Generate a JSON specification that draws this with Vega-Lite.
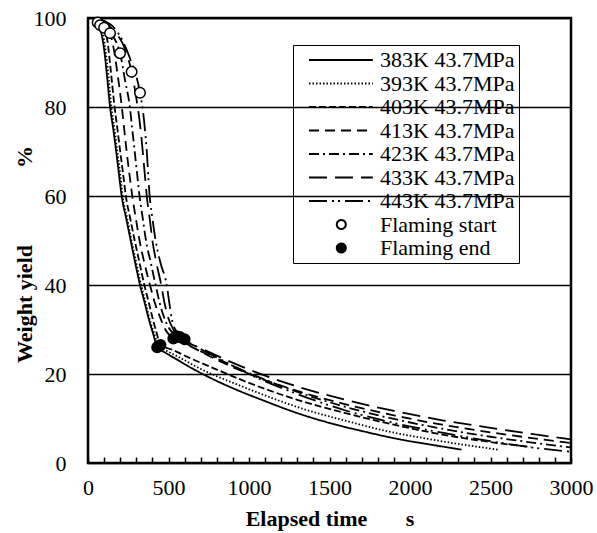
{
  "$schema": "https://vega.github.io/schema/vega-lite/v6.json",
  "autosize": "none",
  "width": 483,
  "height": 445,
  "padding": {"left": 88, "top": 18, "right": 26, "bottom": 70},
  "background": "white",
  "config": {
    "view": {"stroke": "black", "strokeWidth": 2.5},
    "font": "'Times New Roman', 'Liberation Serif', 'DejaVu Serif', serif"
  },
  "datasets": {
    "curves": [
      {"series": "383K 43.7MPa", "t": 50, "y": 99.7}, {"series": "383K 43.7MPa", "t": 60, "y": 99}, {"series": "383K 43.7MPa", "t": 80, "y": 97}, {"series": "383K 43.7MPa", "t": 100, "y": 93}, {"series": "383K 43.7MPa", "t": 118, "y": 87}, {"series": "383K 43.7MPa", "t": 137, "y": 80}, {"series": "383K 43.7MPa", "t": 157, "y": 75}, {"series": "383K 43.7MPa", "t": 175, "y": 70}, {"series": "383K 43.7MPa", "t": 192, "y": 65}, {"series": "383K 43.7MPa", "t": 209, "y": 60}, {"series": "383K 43.7MPa", "t": 237, "y": 55}, {"series": "383K 43.7MPa", "t": 265, "y": 50}, {"series": "383K 43.7MPa", "t": 293, "y": 45}, {"series": "383K 43.7MPa", "t": 323, "y": 40}, {"series": "383K 43.7MPa", "t": 352, "y": 36}, {"series": "383K 43.7MPa", "t": 380, "y": 32}, {"series": "383K 43.7MPa", "t": 405, "y": 29}, {"series": "383K 43.7MPa", "t": 430, "y": 26}, {"series": "383K 43.7MPa", "t": 480, "y": 24.8}, {"series": "383K 43.7MPa", "t": 550, "y": 23.3}, {"series": "383K 43.7MPa", "t": 650, "y": 21.2}, {"series": "383K 43.7MPa", "t": 750, "y": 19.3}, {"series": "383K 43.7MPa", "t": 900, "y": 16.8}, {"series": "383K 43.7MPa", "t": 1100, "y": 13.9}, {"series": "383K 43.7MPa", "t": 1317, "y": 11}, {"series": "383K 43.7MPa", "t": 1500, "y": 9}, {"series": "383K 43.7MPa", "t": 1700, "y": 7.2}, {"series": "383K 43.7MPa", "t": 1938, "y": 5.3}, {"series": "383K 43.7MPa", "t": 2100, "y": 4.3}, {"series": "383K 43.7MPa", "t": 2320, "y": 3},
      {"series": "393K 43.7MPa", "t": 50, "y": 99.7}, {"series": "393K 43.7MPa", "t": 75, "y": 98.4}, {"series": "393K 43.7MPa", "t": 95, "y": 96}, {"series": "393K 43.7MPa", "t": 115, "y": 91}, {"series": "393K 43.7MPa", "t": 130, "y": 86}, {"series": "393K 43.7MPa", "t": 145, "y": 80}, {"series": "393K 43.7MPa", "t": 165, "y": 75}, {"series": "393K 43.7MPa", "t": 182, "y": 70}, {"series": "393K 43.7MPa", "t": 200, "y": 65}, {"series": "393K 43.7MPa", "t": 215, "y": 60}, {"series": "393K 43.7MPa", "t": 243, "y": 55}, {"series": "393K 43.7MPa", "t": 270, "y": 50}, {"series": "393K 43.7MPa", "t": 300, "y": 45}, {"series": "393K 43.7MPa", "t": 330, "y": 40}, {"series": "393K 43.7MPa", "t": 358, "y": 36}, {"series": "393K 43.7MPa", "t": 385, "y": 32}, {"series": "393K 43.7MPa", "t": 412, "y": 29}, {"series": "393K 43.7MPa", "t": 440, "y": 26.3}, {"series": "393K 43.7MPa", "t": 500, "y": 25}, {"series": "393K 43.7MPa", "t": 580, "y": 23.5}, {"series": "393K 43.7MPa", "t": 680, "y": 21.5}, {"series": "393K 43.7MPa", "t": 800, "y": 19.5}, {"series": "393K 43.7MPa", "t": 950, "y": 17.3}, {"series": "393K 43.7MPa", "t": 1150, "y": 14.5}, {"series": "393K 43.7MPa", "t": 1350, "y": 12}, {"series": "393K 43.7MPa", "t": 1600, "y": 9.5}, {"series": "393K 43.7MPa", "t": 1850, "y": 7.2}, {"series": "393K 43.7MPa", "t": 2100, "y": 5.5}, {"series": "393K 43.7MPa", "t": 2350, "y": 4}, {"series": "393K 43.7MPa", "t": 2550, "y": 3},
      {"series": "403K 43.7MPa", "t": 55, "y": 99.7}, {"series": "403K 43.7MPa", "t": 100, "y": 97.8}, {"series": "403K 43.7MPa", "t": 120, "y": 95}, {"series": "403K 43.7MPa", "t": 142, "y": 88}, {"series": "403K 43.7MPa", "t": 165, "y": 80}, {"series": "403K 43.7MPa", "t": 183, "y": 75}, {"series": "403K 43.7MPa", "t": 200, "y": 70}, {"series": "403K 43.7MPa", "t": 218, "y": 65}, {"series": "403K 43.7MPa", "t": 235, "y": 60}, {"series": "403K 43.7MPa", "t": 262, "y": 55}, {"series": "403K 43.7MPa", "t": 290, "y": 50}, {"series": "403K 43.7MPa", "t": 320, "y": 45}, {"series": "403K 43.7MPa", "t": 350, "y": 40}, {"series": "403K 43.7MPa", "t": 378, "y": 36}, {"series": "403K 43.7MPa", "t": 405, "y": 32}, {"series": "403K 43.7MPa", "t": 428, "y": 29}, {"series": "403K 43.7MPa", "t": 450, "y": 26.5}, {"series": "403K 43.7MPa", "t": 520, "y": 25.5}, {"series": "403K 43.7MPa", "t": 620, "y": 23.8}, {"series": "403K 43.7MPa", "t": 800, "y": 21}, {"series": "403K 43.7MPa", "t": 1000, "y": 18}, {"series": "403K 43.7MPa", "t": 1300, "y": 14.2}, {"series": "403K 43.7MPa", "t": 1600, "y": 11.2}, {"series": "403K 43.7MPa", "t": 1900, "y": 8.6}, {"series": "403K 43.7MPa", "t": 2200, "y": 6.4}, {"series": "403K 43.7MPa", "t": 2500, "y": 4.7}, {"series": "403K 43.7MPa", "t": 2750, "y": 3.6},
      {"series": "413K 43.7MPa", "t": 60, "y": 99.7}, {"series": "413K 43.7MPa", "t": 137, "y": 96.6}, {"series": "413K 43.7MPa", "t": 160, "y": 93}, {"series": "413K 43.7MPa", "t": 185, "y": 87}, {"series": "413K 43.7MPa", "t": 210, "y": 80}, {"series": "413K 43.7MPa", "t": 225, "y": 75}, {"series": "413K 43.7MPa", "t": 240, "y": 70}, {"series": "413K 43.7MPa", "t": 257, "y": 65}, {"series": "413K 43.7MPa", "t": 275, "y": 60}, {"series": "413K 43.7MPa", "t": 297, "y": 55}, {"series": "413K 43.7MPa", "t": 320, "y": 50}, {"series": "413K 43.7MPa", "t": 350, "y": 45}, {"series": "413K 43.7MPa", "t": 385, "y": 40}, {"series": "413K 43.7MPa", "t": 415, "y": 36}, {"series": "413K 43.7MPa", "t": 445, "y": 33}, {"series": "413K 43.7MPa", "t": 480, "y": 30}, {"series": "413K 43.7MPa", "t": 530, "y": 28}, {"series": "413K 43.7MPa", "t": 620, "y": 26.5}, {"series": "413K 43.7MPa", "t": 800, "y": 23.2}, {"series": "413K 43.7MPa", "t": 1000, "y": 20}, {"series": "413K 43.7MPa", "t": 1300, "y": 16.2}, {"series": "413K 43.7MPa", "t": 1600, "y": 13.2}, {"series": "413K 43.7MPa", "t": 1900, "y": 10.7}, {"series": "413K 43.7MPa", "t": 2200, "y": 8.6}, {"series": "413K 43.7MPa", "t": 2500, "y": 6.9}, {"series": "413K 43.7MPa", "t": 2800, "y": 5.4}, {"series": "413K 43.7MPa", "t": 3000, "y": 4.5},
      {"series": "423K 43.7MPa", "t": 65, "y": 99.7}, {"series": "423K 43.7MPa", "t": 120, "y": 97.5}, {"series": "423K 43.7MPa", "t": 199, "y": 92.1}, {"series": "423K 43.7MPa", "t": 230, "y": 86}, {"series": "423K 43.7MPa", "t": 260, "y": 80}, {"series": "423K 43.7MPa", "t": 275, "y": 75}, {"series": "423K 43.7MPa", "t": 290, "y": 70}, {"series": "423K 43.7MPa", "t": 305, "y": 65}, {"series": "423K 43.7MPa", "t": 320, "y": 60}, {"series": "423K 43.7MPa", "t": 340, "y": 55}, {"series": "423K 43.7MPa", "t": 360, "y": 50}, {"series": "423K 43.7MPa", "t": 390, "y": 45}, {"series": "423K 43.7MPa", "t": 420, "y": 40}, {"series": "423K 43.7MPa", "t": 445, "y": 36}, {"series": "423K 43.7MPa", "t": 470, "y": 33}, {"series": "423K 43.7MPa", "t": 500, "y": 30.5}, {"series": "423K 43.7MPa", "t": 550, "y": 28.5}, {"series": "423K 43.7MPa", "t": 650, "y": 26}, {"series": "423K 43.7MPa", "t": 800, "y": 23.5}, {"series": "423K 43.7MPa", "t": 1000, "y": 20.2}, {"series": "423K 43.7MPa", "t": 1300, "y": 16}, {"series": "423K 43.7MPa", "t": 1600, "y": 12.6}, {"series": "423K 43.7MPa", "t": 1900, "y": 9.9}, {"series": "423K 43.7MPa", "t": 2200, "y": 7.7}, {"series": "423K 43.7MPa", "t": 2500, "y": 5.9}, {"series": "423K 43.7MPa", "t": 2800, "y": 4.4}, {"series": "423K 43.7MPa", "t": 3000, "y": 3.5},
      {"series": "433K 43.7MPa", "t": 70, "y": 99.7}, {"series": "433K 43.7MPa", "t": 150, "y": 97.5}, {"series": "433K 43.7MPa", "t": 230, "y": 93}, {"series": "433K 43.7MPa", "t": 271, "y": 87.9}, {"series": "433K 43.7MPa", "t": 300, "y": 82}, {"series": "433K 43.7MPa", "t": 320, "y": 77}, {"series": "433K 43.7MPa", "t": 335, "y": 72}, {"series": "433K 43.7MPa", "t": 345, "y": 68}, {"series": "433K 43.7MPa", "t": 355, "y": 64}, {"series": "433K 43.7MPa", "t": 365, "y": 60}, {"series": "433K 43.7MPa", "t": 383, "y": 55}, {"series": "433K 43.7MPa", "t": 400, "y": 50}, {"series": "433K 43.7MPa", "t": 425, "y": 45}, {"series": "433K 43.7MPa", "t": 455, "y": 40}, {"series": "433K 43.7MPa", "t": 475, "y": 36}, {"series": "433K 43.7MPa", "t": 495, "y": 33}, {"series": "433K 43.7MPa", "t": 530, "y": 30}, {"series": "433K 43.7MPa", "t": 570, "y": 28.3}, {"series": "433K 43.7MPa", "t": 700, "y": 25.8}, {"series": "433K 43.7MPa", "t": 850, "y": 23.3}, {"series": "433K 43.7MPa", "t": 1000, "y": 21}, {"series": "433K 43.7MPa", "t": 1300, "y": 17.2}, {"series": "433K 43.7MPa", "t": 1600, "y": 14.2}, {"series": "433K 43.7MPa", "t": 1900, "y": 11.7}, {"series": "433K 43.7MPa", "t": 2200, "y": 9.6}, {"series": "433K 43.7MPa", "t": 2500, "y": 7.9}, {"series": "433K 43.7MPa", "t": 2800, "y": 6.3}, {"series": "433K 43.7MPa", "t": 3000, "y": 5.3},
      {"series": "443K 43.7MPa", "t": 75, "y": 99.7}, {"series": "443K 43.7MPa", "t": 170, "y": 97.5}, {"series": "443K 43.7MPa", "t": 260, "y": 91}, {"series": "443K 43.7MPa", "t": 323, "y": 83.2}, {"series": "443K 43.7MPa", "t": 345, "y": 78}, {"series": "443K 43.7MPa", "t": 365, "y": 70}, {"series": "443K 43.7MPa", "t": 383, "y": 60}, {"series": "443K 43.7MPa", "t": 400, "y": 55}, {"series": "443K 43.7MPa", "t": 420, "y": 50}, {"series": "443K 43.7MPa", "t": 450, "y": 45}, {"series": "443K 43.7MPa", "t": 489, "y": 40}, {"series": "443K 43.7MPa", "t": 505, "y": 36}, {"series": "443K 43.7MPa", "t": 520, "y": 32.5}, {"series": "443K 43.7MPa", "t": 550, "y": 29.5}, {"series": "443K 43.7MPa", "t": 600, "y": 27.8}, {"series": "443K 43.7MPa", "t": 700, "y": 25.6}, {"series": "443K 43.7MPa", "t": 850, "y": 22.8}, {"series": "443K 43.7MPa", "t": 1000, "y": 20}, {"series": "443K 43.7MPa", "t": 1300, "y": 15.5}, {"series": "443K 43.7MPa", "t": 1600, "y": 11.8}, {"series": "443K 43.7MPa", "t": 1900, "y": 9}, {"series": "443K 43.7MPa", "t": 2200, "y": 6.8}, {"series": "443K 43.7MPa", "t": 2500, "y": 4.9}, {"series": "443K 43.7MPa", "t": 2800, "y": 3.3}, {"series": "443K 43.7MPa", "t": 3000, "y": 2.5}
    ],
    "flames": [
      {"kind": "Flaming start", "t": 60, "y": 99}, {"kind": "Flaming start", "t": 75, "y": 98.4}, {"kind": "Flaming start", "t": 100, "y": 97.8}, {"kind": "Flaming start", "t": 137, "y": 96.6}, {"kind": "Flaming start", "t": 199, "y": 92.1}, {"kind": "Flaming start", "t": 271, "y": 87.9}, {"kind": "Flaming start", "t": 323, "y": 83.2},
      {"kind": "Flaming end", "t": 430, "y": 26}, {"kind": "Flaming end", "t": 440, "y": 26.3}, {"kind": "Flaming end", "t": 450, "y": 26.5}, {"kind": "Flaming end", "t": 530, "y": 28}, {"kind": "Flaming end", "t": 550, "y": 28.5}, {"kind": "Flaming end", "t": 570, "y": 28.3}, {"kind": "Flaming end", "t": 600, "y": 27.8}
    ]
  },
  "encoding": {
    "x": {
      "field": "t", "type": "quantitative",
      "scale": {"domain": [0, 3000], "nice": false, "zero": false},
      "axis": {
        "values": [0,100,200,300,400,500,600,700,800,900,1000,1100,1200,1300,1400,1500,1600,1700,1800,1900,2000,2100,2200,2300,2400,2500,2600,2700,2800,2900,3000],
        "labelExpr": "datum.value % 500 == 0 ? datum.label : ''",
        "format": "d",
        "tickSize": -6, "tickWidth": 1.5, "tickColor": "black",
        "domain": false, "grid": false,
        "labelFontSize": 22, "labelColor": "black", "labelPadding": 20,
        "labelOverlap": false, "labelFlush": false,
        "title": "Elapsed time\u00a0\u00a0\u00a0\u00a0\u00a0\u00a0\u00a0s",
        "titleFontSize": 22, "titleFontWeight": "bold", "titleColor": "black", "titlePadding": 10
      }
    },
    "y": {
      "field": "y", "type": "quantitative",
      "scale": {"domain": [0, 100], "nice": false},
      "axis": {
        "values": [0, 20, 40, 60, 80, 100],
        "ticks": false, "domain": false,
        "grid": true, "gridColor": "black", "gridWidth": 1.5, "gridOpacity": 1,
        "labelFontSize": 22, "labelColor": "black", "labelPadding": 22,
        "title": "Weight yield\u00a0\u00a0\u00a0\u00a0\u00a0\u00a0\u00a0\u00a0\u00a0\u00a0\u00a0\u00a0\u00a0\u00a0%",
        "titleFontSize": 22, "titleFontWeight": "bold", "titleColor": "black", "titleX": -52, "titleY": 236
      }
    }
  },
  "layer": [
    {
      "data": {"name": "curves"},
      "mark": {"type": "line", "color": "black", "strokeWidth": 1.8, "interpolate": "monotone"},
      "encoding": {
        "strokeDash": {
          "field": "series", "type": "nominal",
          "scale": {
            "domain": ["383K 43.7MPa", "393K 43.7MPa", "403K 43.7MPa", "413K 43.7MPa", "423K 43.7MPa", "433K 43.7MPa", "443K 43.7MPa", "Flaming start", "Flaming end"],
            "range": [[1, 0], [1.5, 2], [7, 3], [10, 6], [10, 4, 2, 4], [18, 8], [18, 5, 2, 4, 2, 5], [1, 0], [1, 0]]
          },
          "legend": {
            "orient": "none", "legendX": 205, "legendY": 27,
            "title": null,
            "strokeColor": "black", "padding": 4,
            "symbolType": "M0.11,0H7.2", "symbolSize": 324, "symbolStrokeWidth": 2, "symbolStrokeColor": "black",
            "labelFontSize": 22, "labelColor": "black", "labelOffset": 61, "labelLimit": 300,
            "rowPadding": 1.5,
            "encode": {
              "symbols": {
                "update": {
                  "shape": {"signal": "datum.value == 'Flaming start' || datum.value == 'Flaming end' ? 'M4.2,0A0.5,0.5 0 1,1 3.2,0A0.5,0.5 0 1,1 4.2,0Z' : 'M0.11,0H7.2'"},
                  "fill": {"signal": "datum.value == 'Flaming end' ? 'black' : (datum.value == 'Flaming start' ? 'white' : 'transparent')"},
                  "stroke": {"value": "black"}
                }
              }
            }
          }
        }
      }
    },
    {
      "data": {"name": "flames"},
      "mark": {"type": "circle", "size": 110, "stroke": "black", "strokeWidth": 1.5, "opacity": 1},
      "encoding": {
        "fill": {
          "field": "kind", "type": "nominal",
          "scale": {"domain": ["Flaming start", "Flaming end"], "range": ["white", "black"]},
          "legend": null
        }
      }
    }
  ]
}
